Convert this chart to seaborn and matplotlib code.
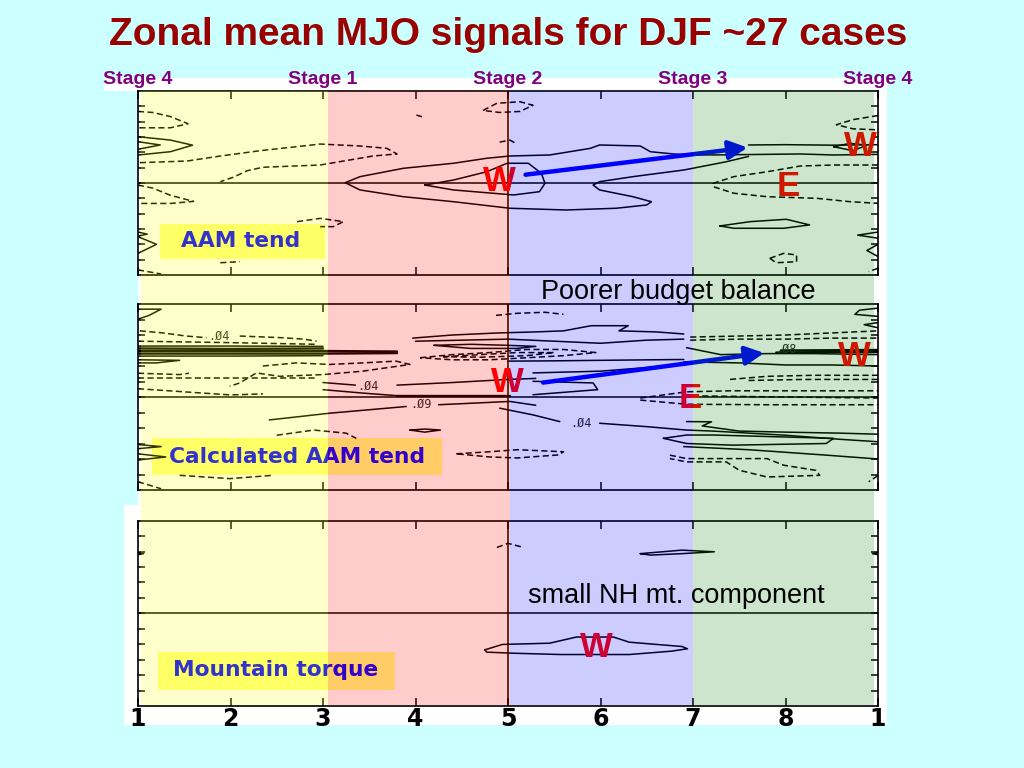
import pandas as pd
import matplotlib
matplotlib.use("Agg")
import matplotlib.pyplot as plt
import matplotlib.transforms as mtrans
from matplotlib.patches import Rectangle
import seaborn as sns

sns.set_theme(style="white")
plt.rcParams['font.family'] = ['Liberation Sans', 'DejaVu Sans']

# x axis: MJO phase, y axis: latitude
phase_ticks = [1, 2, 3, 4, 5, 6, 7, 8, 9]
phase_labels = ['1', '2', '3', '4', '5', '6', '7', '8', '1']
lat_ticks = [-75, -60, -45, -30, -15, 0, 15, 30, 45, 60, 75]
stage_names = ['Stage 4', 'Stage 1', 'Stage 2', 'Stage 3', 'Stage 4']
stage_phase = [1, 3, 5, 7, 9]
band_edges = [1.03, 3.05, 5.02, 7.0, 8.96]
band_colors = ['#ffff00', '#ff0000', '#0000ff', '#008000']

# ---- panel 1: AAM tendency contours (phase, lat)
aam_solid = [
    [(9.0, 28), (8.52, 27.4), (8.16, 28.4), (7.3, 27.5), (7.0, 27.4), (6.79, 28.4), (6.54, 30.6),
     (6.43, 36.2), (5.99, 37.2), (5.89, 33.9), (5.45, 27.4), (5.02, 26.4), (4.77, 24.2), (4.41, 19.3),
     (3.87, 14.4), (3.40, 6.2), (3.24, 0.3), (3.40, -6.8), (3.87, -13.4), (4.41, -18.3), (5.02, -24.7),
     (5.63, -26.4), (6.17, -24.7), (6.50, -21.5), (6.55, -18.3), (6.35, -13.4), (5.99, -6.8),
     (5.92, -2), (5.99, 1.3), (6.35, 6.2), (6.90, 12.7), (7.36, 20.8), (7.6, 26)],
    [(7.6, 37.2), (8.0, 37.5), (8.5, 37.0), (9.0, 37.5)],
    [(4.10, -2), (4.41, 2.9), (4.77, 11), (4.99, 19.3), (5.22, 19.3), (5.36, 9.5), (5.40, -0.3),
     (5.34, -8.5), (5.06, -11.7), (4.41, -6.8), (4.10, -2)],
    [(1.0, 45.3), (1.35, 42), (1.59, 37), (1.35, 30.6), (1.0, 27.4)],
    [(1.0, 40.4), (1.24, 37.2), (1.0, 33)],
    [(1.0, -48), (1.1, -50), (1.0, -52)],
    [(1.0, -52.5), (1.2, -60), (1.0, -68.8)],
    [(7.29, -42), (7.62, -37.8), (8.01, -35.5), (8.26, -41), (7.98, -44.3), (7.44, -44.3), (7.29, -42)],
    [(8.52, 35.5), (8.70, 38.8), (8.88, 37), (8.73, 31.6), (8.52, 35.5)],
    [(9.0, -48), (8.78, -51), (9.0, -54)],
    [(9.0, -60), (8.88, -66), (9.0, -72)],
]
aam_dashed = [
    [(1.0, 70), (1.16, 69), (1.35, 65), (1.54, 58), (1.35, 54), (1.0, 54)],
    [(1.02, 19.9), (1.53, 21.5), (1.89, 26.4), (2.32, 31.6), (2.97, 38.1), (3.40, 36.2), (3.69, 33.9),
     (3.80, 28.4), (3.54, 26.4), (2.97, 17.6), (2.35, 15.4), (2.18, 12.0), (2.03, 5.6), (1.89, 1.3)],
    [(1.0, -2), (1.16, -5), (1.35, -12), (1.6, -18), (1.35, -20), (1.0, -20)],
    [(2.72, -37.8), (2.97, -34.6), (3.22, -37.8), (3.11, -42.7), (2.97, -42.7)],
    [(1.89, -78), (2.1, -77)],
    [(1.0, -85), (1.25, -89)],
    [(4.73, 71), (4.88, 78), (5.13, 79.5), (5.27, 76), (5.13, 70), (4.91, 69), (4.73, 71)],
    [(4.91, 40), (5.02, 42), (5.08, 39)],
    [(4.01, 66.5), (4.07, 64.8)],
    [(9.0, 17.6), (8.52, 17.6), (8.16, 16.6), (7.80, 11), (7.44, 6.2), (7.22, -0.3), (7.22, -3.6),
     (7.44, -10), (7.80, -13.4), (8.34, -15), (8.70, -18.3), (9.0, -19.9)],
    [(7.83, -73.7), (7.98, -68.8), (8.12, -70.4), (8.12, -77), (7.90, -78), (7.83, -73.7)],
    [(9.0, 66), (8.73, 62), (8.55, 57), (8.73, 53), (9.0, 52)],
    [(9.0, -83.4), (8.9, -86.7)],
]
aam_thick = []
aam_letters = [('W', 4.91, 1), ('W', 8.81, 36), ('E', 8.03, -3)]
aam_arrow = [(5.16, 7.8), (7.62, 35.0)]

# ---- panel 2: calculated AAM tendency
calc_thick = [
    [(1.0, 44.5), (2.0, 44.5), (3.0, 44.5), (3.8, 44)],
    [(1.0, 42), (2.0, 42), (3.0, 42), (3.8, 42.5)],
    [(1.0, 47), (2.0, 46.5), (3.0, 47)],
    [(7.9, 43), (8.5, 43.5), (9.0, 43.5)],
    [(7.95, 45), (9.0, 45.5)],
    [(3.8, 0.6), (5.02, 0.6)],
]
calc_solid = [
    [(1.0, 85), (1.25, 85), (1.12, 79), (1.0, 75.3)],
    [(1.0, 49.3), (2.0, 49.3), (3.0, 49)],
    [(1.0, 39.6), (2.0, 39.6), (3.0, 40)],
    [(1.0, 36), (1.45, 35.5), (1.2, 33), (1.0, 33)],
    [(3.97, 57), (4.4, 60), (4.9, 62), (5.3, 63), (5.6, 64), (5.9, 69), (6.3, 69), (6.2, 64),
     (6.6, 63), (6.9, 61)],
    [(4.0, 54), (4.5, 55), (5.0, 56), (5.5, 54), (6.0, 52), (6.5, 55), (6.9, 56)],
    [(4.2, 50), (4.6, 51), (5.0, 50), (5.3, 49), (5.1, 47), (4.6, 47), (4.2, 50)],
    [(9.0, 86), (8.8, 84), (8.75, 80), (9.0, 78)],
    [(9.0, 72), (8.85, 70), (9.0, 67)],
    [(6.93, 47.7), (7.3, 41), (7.8, 42), (8.3, 42), (9.0, 41)],
    [(6.9, 34), (7.5, 33), (8.0, 31), (8.5, 31), (9.0, 30)],
    [(5.0, 34.7), (5.5, 35), (6.0, 35.5), (6.9, 36.3)],
    [(5.27, 23.3), (6.0, 25), (6.93, 31.5)],
    [(5.27, 15.2), (5.92, 13.6), (5.97, 7.1), (5.27, 2.2)],
    [(3.0, 14), (3.35, 11.5)],
    [(3.8, 11.5), (4.4, 14), (5.0, 17), (5.3, 18)],
    [(3.0, 7.1), (3.43, 3.8), (3.9, 0.6)],
    [(2.42, -22.2), (3.07, -15.7), (3.9, -9.2)],
    [(4.25, -7.5), (5.02, -4.3), (5.3, -8)],
    [(4.91, -10.8), (5.27, -17.3), (5.56, -23.8)],
    [(5.99, -25.4), (6.5, -28.7), (6.93, -32), (7.22, -33), (8.0, -37), (8.6, -41), (9.0, -43.3)],
    [(6.68, -40), (6.93, -36.8), (7.22, -36.8), (8.52, -40), (8.44, -45), (7.43, -46.6), (6.93, -45),
     (6.68, -40)],
    [(6.93, -23.8), (7.2, -24), (7.1, -28), (7.5, -33), (8.0, -34), (8.6, -35), (9.0, -36)],
    [(6.9, -48), (7.6, -51), (8.4, -56), (9.0, -60)],
    [(3.94, -32), (4.1, -31), (4.27, -32), (4.1, -34), (3.94, -32)],
    [(1.0, -46), (1.25, -48), (1.0, -50)],
    [(1.0, -55), (1.3, -58), (1.0, -61)],
]
calc_dashed = [
    [(1.02, 64), (1.27, 62), (1.52, 59), (1.74, 57.4)],
    [(2.1, 59), (2.53, 57.5), (2.79, 56), (2.93, 54)],
    [(1.0, 54), (2.0, 52.6), (2.93, 51)],
    [(4.05, 38), (4.4, 41), (4.8, 43), (5.2, 46), (5.6, 46), (5.95, 43), (5.6, 40), (5.2, 38),
     (4.8, 36), (4.4, 36), (4.05, 38)],
    [(4.3, 39), (4.7, 41), (5.1, 43), (5.5, 43), (5.2, 40), (4.7, 38.5), (4.3, 39)],
    [(2.35, 30), (2.71, 33), (3.07, 31.5), (3.43, 33), (3.79, 34.7), (3.94, 31.5), (3.43, 25),
     (3.0, 21.7), (2.53, 20), (2.28, 23.3), (2.1, 13.6), (1.99, 10.3)],
    [(1.0, 23), (1.45, 21.7), (1.55, 23)],
    [(1.0, 18.5), (2.0, 18.5), (2.93, 18.5)],
    [(1.0, 8), (1.5, 5), (2.0, 2), (2.35, 3)],
    [(2.5, -37), (2.9, -32), (3.25, -35), (3.36, -40)],
    [(1.45, -75.8), (1.99, -79), (2.46, -75.8)],
    [(1.0, -82), (1.25, -88.8)],
    [(4.44, -55), (4.8, -53), (5.1, -51), (5.6, -53), (5.55, -56), (5.1, -59), (4.8, -58), (4.44, -55)],
    [(6.97, 58), (7.5, 59), (8.0, 60), (8.5, 62), (9.0, 64)],
    [(6.97, 55), (7.5, 56), (8.0, 56), (8.5, 57), (9.0, 57)],
    [(7.4, 17), (7.8, 20), (8.3, 21), (9.0, 21)],
    [(7.6, 16), (8.2, 17), (9.0, 17)],
    [(6.43, -1), (6.93, 5), (7.4, 6), (8.0, 6), (9.0, 6)],
    [(6.43, -3), (6.93, -7), (7.8, -7.5), (9.0, -7.5)],
    [(7.1, 1), (8.0, 0), (9.0, -1)],
    [(6.75, -56.3), (6.93, -59.6), (7.8, -59.6), (7.98, -66), (8.33, -71), (8.37, -75.8), (7.8, -77.4),
     (7.5, -70.9), (7.36, -62.8), (6.93, -62.8), (6.75, -59.6)],
    [(4.87, 79), (5.1, 81), (5.4, 82), (5.6, 80)],
    [(9.0, -76), (8.9, -82)],
]
calc_labels = [('.Ø4', 1.87, 59), ('.Ø4', 3.49, 10.5), ('.Ø9', 4.06, -7.5), ('.Ø4', 5.79, -25.4),
               ('.Ø8', 8.01, 46)]
calc_letters = [('W', 4.99, 14), ('W', 8.74, 38.8), ('E', 6.97, -1.7)]
calc_arrow = [(5.35, 13.6), (7.80, 42.9)]

# ---- panel 3: mountain torque
mtn_solid = [
    [(4.75, -35.4), (4.94, -30.2), (5.45, -29), (5.74, -23), (6.14, -23), (6.31, -28), (6.88, -32.2),
     (6.94, -34.4), (6.77, -36.7), (6.31, -40), (5.57, -40), (5.05, -38.7), (4.77, -37.7), (4.75, -35.4)],
    [(6.43, 58), (6.88, 61.4), (7.23, 59.8), (6.88, 58), (6.54, 56.6), (6.43, 58)],
    [(1.0, 59), (1.06, 58), (1.0, 57)],
    [(9.0, 59), (8.94, 58), (9.0, 57)],
]
mtn_dashed = [[(4.88, 64), (5.0, 68), (5.17, 64)]]
mtn_thick = []
mtn_letters = [('W', 5.95, -33.6)]


def to_frame(lines, kind):
    rows = []
    for i, line in enumerate(lines):
        for x, y in line:
            rows.append((f'{kind}{i}', kind, x, y))
    return pd.DataFrame(rows, columns=['cid', 'kind', 'phase', 'lat'])


def draw_panel(ax, solid, dashed, thick, letters, arrow=None, labels=()):
    ax.set_facecolor('none')
    df = pd.concat([to_frame(solid, 'solid'), to_frame(dashed, 'dashed')], ignore_index=True)
    sns.lineplot(data=df, x='phase', y='lat', units='cid', style='kind', estimator=None, sort=False,
                 dashes={'solid': '', 'dashed': (4, 2.2)}, color='black', lw=1.1, legend=False, ax=ax)
    if thick:
        sns.lineplot(data=to_frame(thick, 'thick'), x='phase', y='lat', units='cid', estimator=None,
                     sort=False, color='black', lw=1.7, legend=False, ax=ax)
    ax.axhline(0, color='black', lw=1.1)
    ax.axvline(5, color='black', lw=1.1)
    for txt, x, y in labels:
        ax.text(x, y, txt, fontsize=8.5, family='DejaVu Sans Mono', ha='center', va='center')
    for txt, x, y in letters:
        ax.text(x, y, txt, color='#ff0000', fontsize=25, fontweight='bold', ha='center', va='center')
    if arrow:
        ax.annotate('', xy=arrow[1], xytext=arrow[0],
                    arrowprops=dict(arrowstyle='-|>', color='#0000ff', lw=3.2, mutation_scale=28))
    ax.set_xlim(1, 9)
    ax.set_ylim(-90, 90)
    ax.set_xticks(phase_ticks)
    ax.set_yticks(lat_ticks)
    ax.set_xlabel('')
    ax.set_ylabel('')
    ax.tick_params(axis='x', direction='in', length=6, width=1.1, top=True, bottom=True,
                   labelbottom=False, color='black')
    ax.tick_params(axis='y', direction='in', length=5, width=1.1, left=True, right=True,
                   labelleft=False, color='black')
    for sp in ax.spines.values():
        sp.set_color('black')
        sp.set_linewidth(1.2)


def label_box(ax, text, box, center, size):
    ax.add_patch(Rectangle((box[0], box[1]), box[2], box[3], transform=ax.transAxes,
                           facecolor='#ffff80', edgecolor='none', zorder=1.5))
    ax.text(center[0], center[1], text, transform=ax.transAxes, color='#0000ff', fontsize=size,
            fontweight='bold', family='DejaVu Sans', ha='center', va='center', zorder=3)


fig = plt.figure(figsize=(10.24, 7.68), dpi=100, facecolor='#ccffff')
W, H = 1024.0, 768.0

# white slide boxes behind the panels
for x0, y0, x1, y1 in [(104, 78, 887, 91), (138, 91, 887, 505), (124, 505, 887, 725)]:
    fig.add_artist(Rectangle((x0 / W, 1 - y1 / H), (x1 - x0) / W, (y1 - y0) / H,
                             transform=fig.transFigure, facecolor='white', edgecolor='none', zorder=-5))

left, width = 138 / W, 740 / W
ax1 = fig.add_axes([left, 1 - 275 / H, width, 184 / H])
ax2 = fig.add_axes([left, 1 - 490 / H, width, 186 / H])
ax3 = fig.add_axes([left, 1 - 706 / H, width, 185.3 / H])

draw_panel(ax1, aam_solid, aam_dashed, aam_thick, aam_letters, aam_arrow)
draw_panel(ax2, calc_solid, calc_dashed, calc_thick, calc_letters, calc_arrow, calc_labels)
draw_panel(ax3, mtn_solid, mtn_dashed, mtn_thick, mtn_letters)

label_box(ax1, 'AAM tend', (0.030, 0.087, 0.223, 0.19), (0.139, 0.185), 15.7)
label_box(ax2, 'Calculated AAM tend', (0.0185, 0.08, 0.392, 0.20), (0.215, 0.177), 15.7)
label_box(ax3, 'Mountain torque', (0.027, 0.086, 0.32, 0.207), (0.186, 0.194), 15.7)

ax3.tick_params(axis='x', labelbottom=True, pad=1, labelcolor='black')
ax3.set_xticklabels(phase_labels, fontsize=17, fontweight='bold', family='DejaVu Sans')

# translucent stage bands on top of everything in the panels
ov = fig.add_axes([left, 1 - 705 / H, width, (705 - 91) / H])
ov.set_zorder(10)
ov.set_facecolor('none')
ov.set_xlim(1, 9)
ov.set_ylim(0, 1)
ov.axis('off')
for i, c in enumerate(band_colors):
    ov.axvspan(band_edges[i], band_edges[i + 1], color=c, alpha=0.2, lw=0)

# stage names above the top panel
trans = mtrans.blended_transform_factory(ax1.transData, fig.transFigure)
for name, ph in zip(stage_names, stage_phase):
    ax1.text(ph, 1 - 80 / H, name, transform=trans, color='#800080', fontsize=14,
             fontweight='bold', ha='center', va='center', clip_on=False)

fig.text(0.496, 1 - 35 / H, 'Zonal mean MJO signals for DJF ~27 cases', color='#990000',
         fontsize=28, fontweight='bold', ha='center', va='center')
fig.text(678 / W, 1 - 292 / H, 'Poorer budget balance', color='black', fontsize=19.5,
         ha='center', va='center', zorder=20)
fig.text(676 / W, 1 - 596 / H, 'small NH mt. component', color='black', fontsize=19.5,
         ha='center', va='center', zorder=20)

fig.savefig('out.png', dpi=100, facecolor=fig.get_facecolor())
